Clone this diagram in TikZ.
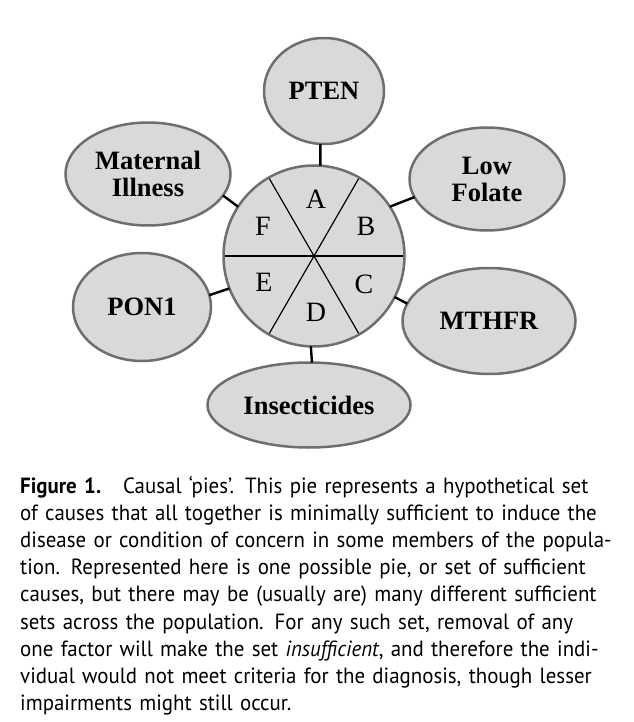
\documentclass[tikz,border=0pt]{standalone}
\usepackage{fontspec}
\setmainfont{Liberation Serif}
\newfontfamily\capfont[FakeStretch=0.95]{PT Sans}
\usetikzlibrary{shapes.geometric}
\definecolor{piefill}{HTML}{D9D9D9}
\definecolor{pieedge}{HTML}{6E6E6E}
\newcommand{\capline}[1]{\makebox[594pt][s]{#1}\\}

\begin{document}
\begin{tikzpicture}[
        x=1pt, y=-1pt,
        cause/.style={ellipse, draw=pieedge, fill=piefill, line width=2.5pt,
            inner sep=0pt, outer sep=0pt, align=center,
            font=\fontsize{26.5}{27}\selectfont\bfseries},
        wheel/.style={circle, draw=pieedge, fill=piefill, line width=2.5pt,
            minimum size=181pt, inner sep=0pt, outer sep=0pt},
        slice/.style={font=\fontsize{28}{30}\selectfont},
        link/.style={line width=2.4pt, black},
    ]
    \useasboundingbox (0,0) rectangle (633,722);

    \node (pie) [wheel] at (314,256) {};
    \foreach \a in {0,60,...,300}
        \draw [line width=1.2pt, shorten >=1.2pt] (pie.center) -- (pie.\a);
    \foreach \s/\x/\y in {A/316/199, B/366/226, C/364/284, D/316/312, E/264/282, F/263/226}
        \node (slice\s) [slice] at (\x,\y) {\s};

    \node (pten) [cause, minimum width=120pt, minimum height=106pt] at (324,91) {PTEN};
    \node (maternal) [cause, minimum width=165pt, minimum height=103pt] at (148,174) {Maternal\\Illness};
    \node (folate) [cause, minimum width=155pt, minimum height=103pt] at (487,179) {Low\\Folate};
    \node (pon) [cause, minimum width=138pt, minimum height=108pt] at (142,307) {PON1};
    \node (mthfr) [cause, minimum width=173pt, minimum height=106pt] at (489,321) {MTHFR};
    \node (insect) [cause, minimum width=203pt, minimum height=85pt] at (309,405) {Insecticides};

    \draw [link] (pie.86) -- (pten.-94);
    \draw [link] (pie.33) -- (folate.194);
    \draw [link] (pie.-27) -- (mthfr.168);
    \draw [link] (pie.-92) -- (insect.86);
    \draw [link] (pie.201) -- (pon.10);
    \draw [link] (pie.147) -- (maternal.-16);

    \node (caption) [anchor=base west, text width=594pt, inner sep=0pt,
        font=\capfont\fontsize{22}{27.2}\selectfont] at (20,493) {%
        \capline{\textbf{Figure 1.}\hspace{0.5em} Causal ‘pies’. This pie represents a hypothetical set}
        \capline{of causes that all together is minimally sufficient to induce the}
        \capline{disease or condition of concern in some members of the popula-}
        \capline{tion. Represented here is one possible pie, or set of sufficient}
        \capline{causes, but there may be (usually are) many different sufficient}
        \capline{sets across the population. For any such set, removal of any}
        \capline{one factor will make the set \textit{insufficient}, and therefore the indi-}
        \capline{vidual would not meet criteria for the diagnosis, though lesser}
        impairments might still occur.};
\end{tikzpicture}
\end{document}
